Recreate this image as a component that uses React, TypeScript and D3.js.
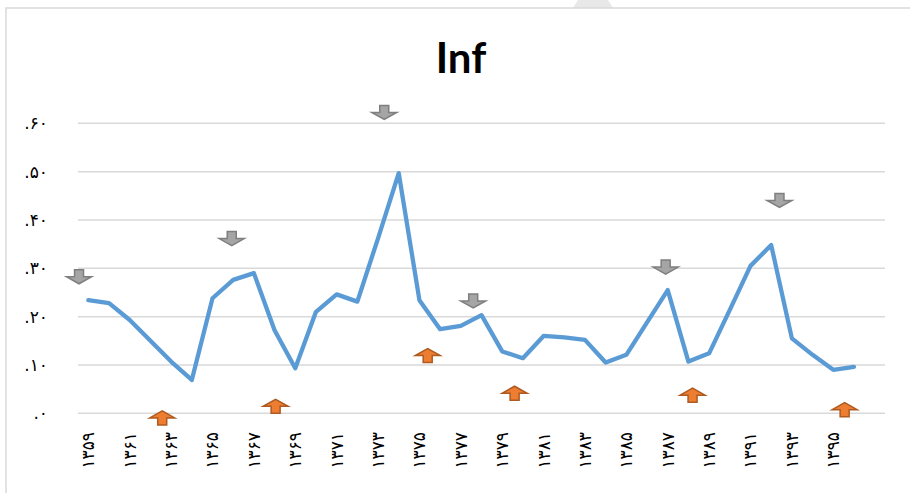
import * as d3 from 'd3';

// Persian year labels (1359..1396) and inflation rate per year
const years = [
  '۱۳۵۹', '۱۳۶۰', '۱۳۶۱', '۱۳۶۲', '۱۳۶۳', '۱۳۶۴', '۱۳۶۵', '۱۳۶۶', '۱۳۶۷', '۱۳۶۸',
  '۱۳۶۹', '۱۳۷۰', '۱۳۷۱', '۱۳۷۲', '۱۳۷۳', '۱۳۷۴', '۱۳۷۵', '۱۳۷۶', '۱۳۷۷', '۱۳۷۸',
  '۱۳۷۹', '۱۳۸۰', '۱۳۸۱', '۱۳۸۲', '۱۳۸۳', '۱۳۸۴', '۱۳۸۵', '۱۳۸۶', '۱۳۸۷', '۱۳۸۸',
  '۱۳۸۹', '۱۳۹۰', '۱۳۹۱', '۱۳۹۲', '۱۳۹۳', '۱۳۹۴', '۱۳۹۵', '۱۳۹۶',
];
const inf = [
  0.234, 0.228, 0.193, 0.150, 0.107, 0.069, 0.238, 0.276, 0.290, 0.172,
  0.093, 0.210, 0.246, 0.231, 0.362, 0.497, 0.234, 0.174, 0.181, 0.203,
  0.128, 0.114, 0.160, 0.157, 0.152, 0.105, 0.121, 0.188, 0.255, 0.107,
  0.124, 0.214, 0.305, 0.348, 0.155, 0.121, 0.090, 0.096,
];

const yTicks = [0, 0.1, 0.2, 0.3, 0.4, 0.5, 0.6];
const yTickLabels = ['.۰', '.۱۰', '.۲۰', '.۳۰', '.۴۰', '.۵۰', '.۶۰'];

// annotation arrows: category position and value at the arrow tip
const peakPos = [-0.45, 6.93, 14.3, 18.6, 27.9, 33.4];
const peakVal = [0.268, 0.347, 0.608, 0.218, 0.288, 0.426];
const troughPos = [3.57, 9.05, 16.4, 20.6, 29.2, 36.55];
const troughVal = [0.005, 0.029, 0.134, 0.056, 0.052, 0.022];

const W = 910;
const H = 493;
const SLOTS = years.length + 1; // the category axis keeps one empty slot at the end

const downArrow = 'M-4.5,-14L4.5,-14L4.5,-7L12.5,-7L0,0L-12.5,-7L-4.5,-7Z';
const upArrow = 'M-4.5,14L4.5,14L4.5,7L12.5,7L0,0L-12.5,7L-4.5,7Z';

export default function App() {
  const x = d3.scaleLinear().domain([-0.5, SLOTS - 0.5]).range([78, 885]);
  const y = d3.scaleLinear().domain([0, 0.6]).range([413.3, 123.3]);

  const line = d3.line<number>()
    .x((_, i) => x(i))
    .y((d) => y(d));

  const digitFont = '"DejaVu Sans", sans-serif';

  return (
    <svg
      width={W}
      height={H}
      style={{ position: 'absolute', left: 0, top: 0, background: '#fff' }}
    >
      <polygon points="578,0 608,0 613,8 573,8" fill="#e8e8e8" />
      <rect x={6} y={8} width={W + 20} height={H + 20} fill="none" stroke="#d9d9d9" strokeWidth={1.5} />

      <text
        x={461}
        y={73}
        textAnchor="middle"
        fontFamily="Lato, 'Open Sans', sans-serif"
        fontWeight="bold"
        fontSize={42}
        fill="#000"
      >
        Inf
      </text>

      {/* grid + y labels */}
      {yTicks.map((t, i) => (
        <g key={t}>
          <line x1={x(-0.5)} x2={x(SLOTS - 0.5)} y1={y(t)} y2={y(t)} stroke="#d9d9d9" strokeWidth={1.5} />
          <text
            x={48}
            y={y(t)}
            dy="0.35em"
            textAnchor="end"
            fontFamily={digitFont}
            fontSize={17}
            fill="#000"
            direction="ltr"
          >
            {yTickLabels[i]}
          </text>
        </g>
      ))}

      {/* x labels, every second year */}
      {years.map((yr, i) =>
        i % 2 === 0 ? (
          <text
            key={yr}
            transform={`translate(${x(i)},432) rotate(-90)`}
            dy="0.35em"
            textAnchor="end"
            fontFamily={digitFont}
            fontSize={17}
            fill="#000"
          >
            {yr}
          </text>
        ) : null
      )}

      <path
        d={line(inf) || ''}
        fill="none"
        stroke="#5b9bd5"
        strokeWidth={4.3}
        strokeLinejoin="round"
        strokeLinecap="round"
      />

      {peakPos.map((p, i) => (
        <path
          key={'p' + i}
          d={downArrow}
          transform={`translate(${x(p)},${y(peakVal[i])})`}
          fill="#a5a5a5"
          stroke="#7f7f7f"
          strokeWidth={1.5}
          strokeLinejoin="miter"
        />
      ))}
      {troughPos.map((p, i) => (
        <path
          key={'t' + i}
          d={upArrow}
          transform={`translate(${x(p)},${y(troughVal[i])})`}
          fill="#ed7d31"
          stroke="#ae5a21"
          strokeWidth={1.5}
          strokeLinejoin="miter"
        />
      ))}
    </svg>
  );
}
